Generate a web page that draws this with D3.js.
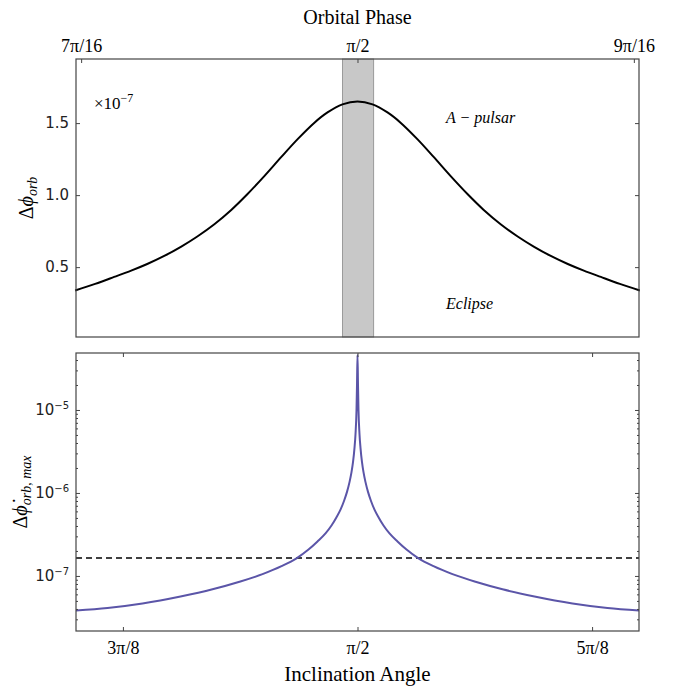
<!DOCTYPE html>
<html>
<head>
<meta charset="utf-8">
<script src="https://cdn.jsdelivr.net/npm/d3@7"></script>
<style>
  body { margin: 0; background: #fff; }
  .serif { font-family: "Liberation Serif", "DejaVu Serif", serif; }
  .sans { font-family: "DejaVu Sans", sans-serif; }
</style>
</head>
<body>
<div id="chart"></div>
<script>
// top panel: orbital phase (rad) vs delta phi_orb (in units of 1e-7)
const orbitalPhase = [1.3702, 1.3844, 1.3979, 1.4100, 1.4214, 1.4335, 1.4456, 1.4570, 1.4691,
  1.4811, 1.4925, 1.5046, 1.5167, 1.5281, 1.5402, 1.5495, 1.5601, 1.5708, 1.5815, 1.5921,
  1.6014, 1.6135, 1.6249, 1.6370, 1.6491, 1.6605, 1.6725, 1.6846, 1.6960, 1.7081, 1.7202,
  1.7316, 1.7437, 1.7572, 1.7714];
const dPhiOrb = [0.338, 0.384, 0.432, 0.476, 0.522, 0.578, 0.643, 0.713, 0.798, 0.897, 1.006,
  1.132, 1.265, 1.387, 1.503, 1.574, 1.63, 1.65, 1.63, 1.574, 1.503, 1.387, 1.265, 1.132,
  1.006, 0.897, 0.798, 0.713, 0.643, 0.578, 0.522, 0.476, 0.432, 0.384, 0.338];
const eclipseBand = [1.5601, 1.5823];
const phaseTicks = [7 * Math.PI / 16, Math.PI / 2, 9 * Math.PI / 16];
const phaseTickLabels = ["7π/16", "π/2", "9π/16"];
const orbTicks = [0.5, 1.0, 1.5];

// bottom panel: inclination angle (rad) vs delta phi_orb,max
const inclination = [1.09956, 1.15231, 1.21090, 1.27451, 1.32808, 1.37327, 1.41178, 1.44358,
  1.46869, 1.48878, 1.50384, 1.51723, 1.52728, 1.53565, 1.54234, 1.54820, 1.55322, 1.55741,
  1.56076, 1.56327, 1.56578, 1.56745, 1.56913, 1.56996, 1.57080, 1.57164, 1.57247, 1.57415,
  1.57582, 1.57833, 1.58084, 1.58419, 1.58838, 1.59340, 1.59926, 1.60595, 1.61432, 1.62437,
  1.63776, 1.65282, 1.67291, 1.69802, 1.72982, 1.76833, 1.81352, 1.86709, 1.93070, 1.98929,
  2.04204];
const dPhiMax = [3.82e-8, 4.1e-8, 4.65e-8, 5.65e-8, 6.9e-8, 8.5e-8, 1.05e-7, 1.31e-7, 1.63e-7,
  2.08e-7, 2.6e-7, 3.25e-7, 4.05e-7, 5.1e-7, 6.3e-7, 8.0e-7, 1.03e-6, 1.35e-6, 1.78e-6,
  2.35e-6, 3.5e-6, 5.1e-6, 1.0e-5, 2.0e-5, 4.6e-5, 2.0e-5, 1.0e-5, 5.1e-6, 3.5e-6, 2.35e-6,
  1.78e-6, 1.35e-6, 1.03e-6, 8.0e-7, 6.3e-7, 5.1e-7, 4.05e-7, 3.25e-7, 2.6e-7, 2.08e-7,
  1.63e-7, 1.31e-7, 1.05e-7, 8.5e-8, 6.9e-8, 5.65e-8, 4.65e-8, 4.1e-8, 3.82e-8];
const pulsarLevel = 1.65e-7;
const inclTicks = [3 * Math.PI / 8, Math.PI / 2, 5 * Math.PI / 8];
const inclTickLabels = ["3π/8", "π/2", "5π/8"];
const logTicks = [1e-7, 1e-6, 1e-5];
const logTickExp = ["−7", "−6", "−5"];

const width = 683;
const height = 687;
const left = 76, right = 639;
const frameColor = "#444";

const svg = d3.select("#chart")
  .append("svg")
  .attr("width", width)
  .attr("height", height)
  .style("background", "#fff");

function styleAxis(g) {
  g.select(".domain").remove();
  g.selectAll(".tick line").attr("stroke", frameColor);
}

function drawTop() {
  const top = 59, bottom = 337;
  const x = d3.scaleLinear().domain([1.3708, 1.7708]).range([left, right]);
  const y = d3.scaleLinear().domain([0.015, 1.945]).range([bottom, top]);

  svg.append("rect")
    .attr("x", x(eclipseBand[0]))
    .attr("y", top)
    .attr("width", x(eclipseBand[1]) - x(eclipseBand[0]))
    .attr("height", bottom - top)
    .attr("fill", "#c8c8c8")
    .attr("stroke", "#8a8a8a")
    .attr("stroke-width", 0.8);

  const pts = orbitalPhase.map((p, i) => [p, dPhiOrb[i]]);
  const line = d3.line()
    .x((d) => x(d[0]))
    .y((d) => y(d[1]))
    .curve(d3.curveCatmullRom);
  svg.append("path")
    .datum(pts)
    .attr("fill", "none")
    .attr("stroke", "#000")
    .attr("stroke-width", 2)
    .attr("d", line);

  // x axis on top, ticks pointing in
  svg.append("g")
    .attr("transform", "translate(0," + top + ")")
    .call(d3.axisTop(x).tickValues(phaseTicks)
      .tickFormat((d, i) => phaseTickLabels[i])
      .tickSizeInner(-4).tickSizeOuter(0).tickPadding(7))
    .call(styleAxis)
    .call((g) => g.selectAll("text")
      .attr("class", "serif").attr("font-size", 18).attr("fill", "#000"));

  svg.append("g")
    .attr("transform", "translate(" + left + ",0)")
    .call(d3.axisLeft(y).tickValues(orbTicks).tickFormat(d3.format(".1f"))
      .tickSizeInner(-4).tickSizeOuter(0).tickPadding(7))
    .call(styleAxis)
    .call((g) => g.selectAll("text")
      .attr("class", "sans").attr("font-size", 15).attr("fill", "#222"));

  svg.append("g")
    .attr("transform", "translate(" + right + ",0)")
    .call(d3.axisRight(y).tickValues(orbTicks).tickFormat("")
      .tickSizeInner(-4).tickSizeOuter(0))
    .call(styleAxis);

  svg.append("rect")
    .attr("x", left).attr("y", top)
    .attr("width", right - left).attr("height", bottom - top)
    .attr("fill", "none").attr("stroke", frameColor).attr("stroke-width", 1.2);

  // offset text
  const off = svg.append("text").attr("class", "serif")
    .attr("x", 94).attr("y", 109).attr("font-size", 17);
  off.append("tspan").text("×10");
  off.append("tspan").attr("dy", -7).attr("font-size", 12).text("−7");

  svg.append("text").attr("class", "serif")
    .attr("x", 446).attr("y", 123)
    .attr("font-size", 16).attr("font-style", "italic")
    .text("A − pulsar");
  svg.append("text").attr("class", "serif")
    .attr("x", 446).attr("y", 309)
    .attr("font-size", 16).attr("font-style", "italic")
    .text("Eclipse");

  svg.append("text").attr("class", "serif")
    .attr("x", (left + right) / 2).attr("y", 24)
    .attr("text-anchor", "middle").attr("font-size", 20)
    .text("Orbital Phase");

  const yl = svg.append("text").attr("class", "serif")
    .attr("transform", "translate(33," + ((top + bottom) / 2) + ") rotate(-90)")
    .attr("text-anchor", "middle").attr("font-size", 20);
  yl.append("tspan").text("Δ");
  yl.append("tspan").attr("font-style", "italic").text("ϕ");
  yl.append("tspan").attr("font-style", "italic").attr("font-size", 14)
    .attr("dy", 4).text("orb");
}

function drawBottom() {
  const top = 353, bottom = 631;
  const x = d3.scaleLinear().domain([0.35 * Math.PI, 0.65 * Math.PI]).range([left, right]);
  const y = d3.scaleLog().domain([2.17e-8, 4.86e-5]).range([bottom, top]);

  const minor = [];
  for (let e = -8; e <= -5; e++) {
    for (let m = 2; m <= 9; m++) {
      const v = m * Math.pow(10, e);
      if (v > y.domain()[0] && v < y.domain()[1]) minor.push(v);
    }
  }

  svg.append("line")
    .attr("x1", left).attr("x2", right)
    .attr("y1", y(pulsarLevel)).attr("y2", y(pulsarLevel))
    .attr("stroke", "#000").attr("stroke-width", 1.5)
    .attr("stroke-dasharray", "6,4");

  const pts = inclination.map((a, i) => [a, dPhiMax[i]]);
  const line = d3.line()
    .x((d) => x(d[0]))
    .y((d) => y(d[1]))
    .curve(d3.curveMonotoneX);
  svg.append("path")
    .datum(pts)
    .attr("fill", "none")
    .attr("stroke", "#5b55a8")
    .attr("stroke-width", 2)
    .attr("d", line);

  svg.append("g")
    .attr("transform", "translate(0," + bottom + ")")
    .call(d3.axisBottom(x).tickValues(inclTicks)
      .tickFormat((d, i) => inclTickLabels[i])
      .tickSizeInner(-4).tickSizeOuter(0).tickPadding(10))
    .call(styleAxis)
    .call((g) => g.selectAll("text")
      .attr("class", "serif").attr("font-size", 18).attr("fill", "#000"));

  svg.append("g")
    .attr("transform", "translate(0," + top + ")")
    .call(d3.axisTop(x).tickValues(inclTicks).tickFormat("")
      .tickSizeInner(-4).tickSizeOuter(0))
    .call(styleAxis);

  const yAxis = svg.append("g")
    .attr("transform", "translate(" + left + ",0)")
    .call(d3.axisLeft(y).tickValues(logTicks).tickFormat("")
      .tickSizeInner(-4).tickSizeOuter(0).tickPadding(7))
    .call(styleAxis);
  yAxis.selectAll(".tick text").each(function (d, i) {
    const t = d3.select(this)
      .attr("class", "sans").attr("font-size", 15).attr("fill", "#222");
    t.append("tspan").text("10");
    t.append("tspan").attr("font-size", 10).attr("dy", -6).text(logTickExp[i]);
  });

  svg.append("g")
    .attr("transform", "translate(" + left + ",0)")
    .call(d3.axisLeft(y).tickValues(minor).tickFormat("")
      .tickSizeInner(-2).tickSizeOuter(0))
    .call(styleAxis);

  svg.append("g")
    .attr("transform", "translate(" + right + ",0)")
    .call(d3.axisRight(y).tickValues(logTicks).tickFormat("")
      .tickSizeInner(-4).tickSizeOuter(0))
    .call(styleAxis);
  svg.append("g")
    .attr("transform", "translate(" + right + ",0)")
    .call(d3.axisRight(y).tickValues(minor).tickFormat("")
      .tickSizeInner(-2).tickSizeOuter(0))
    .call(styleAxis);

  svg.append("rect")
    .attr("x", left).attr("y", top)
    .attr("width", right - left).attr("height", bottom - top)
    .attr("fill", "none").attr("stroke", frameColor).attr("stroke-width", 1.2);

  svg.append("text").attr("class", "serif")
    .attr("x", (left + right) / 2).attr("y", 681)
    .attr("text-anchor", "middle").attr("font-size", 21)
    .text("Inclination Angle");

  const yl = svg.append("text").attr("class", "serif")
    .attr("transform", "translate(27," + ((top + bottom) / 2) + ") rotate(-90)")
    .attr("text-anchor", "middle").attr("font-size", 20);
  yl.append("tspan").text("Δ");
  yl.append("tspan").attr("font-style", "italic").text("ϕ\u0307");
  yl.append("tspan").attr("font-style", "italic").attr("font-size", 14)
    .attr("dy", 4).text("orb, max");
}

drawTop();
drawBottom();
</script>
</body>
</html>
